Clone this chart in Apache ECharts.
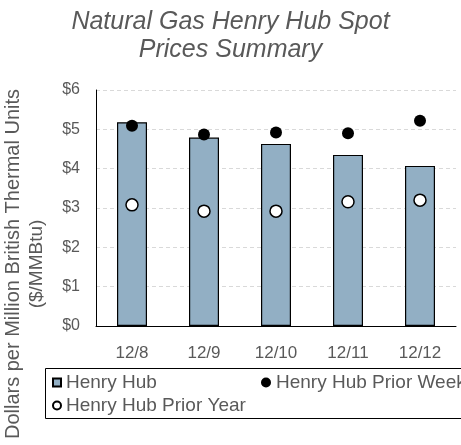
<!DOCTYPE html>
<html>
<head>
<meta charset="utf-8">
<script src="https://cdn.jsdelivr.net/npm/echarts@6/dist/echarts.min.js"></script>
<style>
  html, body { margin: 0; padding: 0; background: #fff; }
  #chart { width: 461px; height: 445px; }
</style>
</head>
<body>
<div id="chart"></div>
<script>
// 数据
var categories = ['12/8', '12/9', '12/10', '12/11', '12/12'];
var henryHub = [5.18, 4.79, 4.63, 4.35, 4.07];
var priorWeek = [5.09, 4.87, 4.92, 4.90, 5.22];
var priorYear = [3.08, 2.92, 2.92, 3.16, 3.20];
var yTicks = [0, 1, 2, 3, 4, 5, 6];

var FONT = '"Liberation Sans", Arial, sans-serif';
var GREY = '#595959';

var myChart = echarts.init(document.getElementById('chart'));

var option = {
    animation: false,
    title: {
        text: 'Natural Gas Henry Hub Spot\nPrices Summary',
        left: 'center',
        top: 8,
        padding: 0,
        textStyle: {
            fontFamily: FONT,
            fontSize: 25,
            lineHeight: 28,
            fontStyle: 'italic',
            fontWeight: 'normal',
            color: GREY
        }
    },
    grid: {
        left: 96,
        right: 5,
        top: 90,
        bottom: 119
    },
    xAxis: {
        type: 'category',
        data: categories,
        axisLine: {lineStyle: {color: '#000', width: 1}},
        axisTick: {show: false},
        axisLabel: {
            fontFamily: FONT,
            fontSize: 17,
            color: GREY,
            margin: 19
        }
    },
    yAxis: {
        type: 'value',
        min: yTicks[0],
        max: yTicks[yTicks.length - 1],
        interval: 1,
        axisLine: {show: true, lineStyle: {color: '#000', width: 1}},
        axisTick: {show: false},
        splitLine: {lineStyle: {color: '#d9d9d9', type: [4, 3], width: 1}},
        axisLabel: {
            fontFamily: FONT,
            fontSize: 16,
            color: GREY,
            margin: 16,
            formatter: function (v) { return '$' + v; }
        }
    },
    legend: [
        {
            data: ['Henry Hub'],
            left: 52, top: 373, padding: 0,
            itemWidth: 8, itemHeight: 8,
            icon: 'rect',
            textStyle: {fontFamily: FONT, fontSize: 19, color: GREY}
        },
        {
            data: ['Henry Hub Prior Week'],
            left: 261, top: 373, padding: 0,
            itemWidth: 10, itemHeight: 10,
            icon: 'circle',
            textStyle: {fontFamily: FONT, fontSize: 19, color: GREY}
        },
        {
            data: ['Henry Hub Prior Year'],
            left: 52, top: 396, padding: 0,
            itemWidth: 8, itemHeight: 8,
            icon: 'circle',
            textStyle: {fontFamily: FONT, fontSize: 19, color: GREY}
        }
    ],
    graphic: [
        {
            type: 'rect',
            shape: {x: 45.5, y: 368.5, width: 420, height: 50},
            style: {fill: 'none', stroke: '#000', lineWidth: 1},
            z: 10
        },
        {
            type: 'text',
            x: 13, y: 264,
            rotation: Math.PI / 2,
            style: {
                text: 'Dollars per Million British Thermal Units',
                font: '20px ' + FONT,
                fill: GREY,
                align: 'center',
                verticalAlign: 'middle'
            }
        },
        {
            type: 'text',
            x: 37, y: 264,
            rotation: Math.PI / 2,
            style: {
                text: '($/MMBtu)',
                font: '19px ' + FONT,
                fill: GREY,
                align: 'center',
                verticalAlign: 'middle'
            }
        }
    ],
    series: [
        {
            name: 'Henry Hub',
            type: 'bar',
            data: henryHub,
            barWidth: 30,
            itemStyle: {color: '#92afc4', borderColor: '#000', borderWidth: 1.2}
        },
        {
            name: 'Henry Hub Prior Week',
            type: 'scatter',
            data: priorWeek,
            symbol: 'circle',
            symbolSize: 12,
            itemStyle: {color: '#000', opacity: 1}
        },
        {
            name: 'Henry Hub Prior Year',
            type: 'scatter',
            data: priorYear,
            symbol: 'circle',
            symbolSize: 12,
            itemStyle: {color: '#fff', borderColor: '#000', borderWidth: 1.5, opacity: 1}
        }
    ]
};

myChart.setOption(option);
</script>
</body>
</html>
